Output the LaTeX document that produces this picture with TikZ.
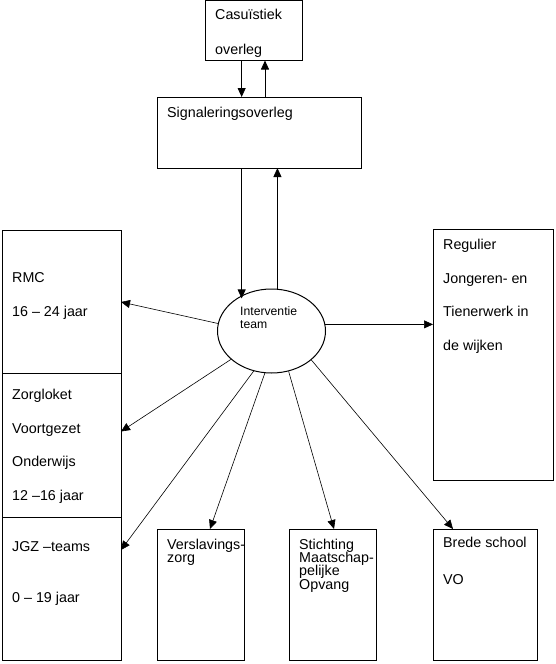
\documentclass[tikz,border=0pt]{standalone}
\usepackage{fontspec}
\setmainfont{Liberation Sans}
\usetikzlibrary{arrows.meta,shapes.geometric,calc}
\begin{document}
\begin{tikzpicture}[x=1pt,y=-1pt,
 box/.style={draw,line width=1pt,inner sep=0pt,outer sep=0pt,anchor=north west},
 lbl/.style={inner sep=0pt,anchor=base west,font=\fontsize{14.3}{16}\selectfont},
 small/.style={inner sep=0pt,anchor=base west,font=\fontsize{12.2}{13}\selectfont},
 arr/.style={line width=0.8pt,-{Triangle[length=9pt,width=8pt]}},
 thin arr/.style={line width=0.6pt,-{Triangle[length=9pt,width=8pt]}}]
\useasboundingbox (0,0) rectangle (556,664);
% boxes
\node[box,minimum width=97pt,minimum height=60pt] (cas) at (205,0.5) {};
\node[box,minimum width=204pt,minimum height=71pt] (sig) at (157,97) {};
\node[box,minimum width=119pt,minimum height=143pt] (rmc) at (2,230) {};
\node[box,minimum width=119pt,minimum height=144pt] (zorg) at (2,373) {};
\node[box,minimum width=119pt,minimum height=143pt] (jgz) at (2,517) {};
\node[box,minimum width=87pt,minimum height=131pt] (vers) at (157,529) {};
\node[box,minimum width=87pt,minimum height=131pt] (stich) at (289,529) {};
\node[box,minimum width=104pt,minimum height=131pt] (brede) at (433,529) {};
\node[box,minimum width=120pt,minimum height=251pt] (reg) at (433,229) {};
\node[draw,line width=1pt,ellipse,inner sep=0pt,minimum width=108pt,minimum height=84pt] (it) at (271.5,331) {};
% texts
\node[lbl] (t1) at (215,19) {Casuïstiek};
\node[lbl] (t2) at (215,54) {overleg};
\node[lbl] (t3) at (167,117) {Signaleringsoverleg};
\node[lbl] (t4) at (12,282) {RMC};
\node[lbl] (t5) at (12,316) {16 – 24 jaar};
\node[lbl] (t6) at (12,399) {Zorgloket};
\node[lbl] (t7) at (12,433) {Voortgezet};
\node[lbl] (t8) at (12,466) {Onderwijs};
\node[lbl] (t9) at (12,500.5) {12 –16 jaar};
\node[lbl] (t10) at (12,551) {JGZ –teams};
\node[lbl] (t11) at (12,602) {0 – 19 jaar};
\node[lbl] (t12) at (167,549) {Verslavings-};
\node[lbl] (t13) at (167,562) {zorg};
\node[lbl] (t14) at (299,549) {Stichting};
\node[lbl] (t15) at (299,562) {Maatschap-};
\node[lbl] (t16) at (299,575) {pelijke};
\node[lbl] (t17) at (299,589) {Opvang};
\node[lbl] (t18) at (443,547) {Brede school};
\node[lbl] (t19) at (443,584) {VO};
\node[lbl] (t20) at (443,249) {Regulier};
\node[lbl] (t21) at (443,283) {Jongeren- en};
\node[lbl] (t22) at (443,316) {Tienerwerk in};
\node[lbl] (t23) at (443,350) {de wijken};
\node[small] (t24) at (240,315) {Interventie};
\node[small] (t25) at (240,328.3) {team};
% vertical connectors
\coordinate (cu) at ($(cas.south)+(11.5,0)$);
\draw[arr] (cas.south -| it.130.3) -- (sig.north -| it.130.3);
\draw[arr] (sig.north -| cu) -- (cu);
\draw[arr] (sig.south -| it.130.3) -- ($(it.130.3)+(0,3)$);
\draw[arr] (it.82.1) -- (sig.south -| it.82.1);
% spokes
\draw[thin arr] (it.172.9) -- ($(rmc.north east)+(0,72)$);
\draw[thin arr] (it.215.4) -- ($(zorg.north east)+(0,58.5)$);
\draw[thin arr] (it.246.7) -- ($(jgz.north east)+(0,33)$);
\draw[thin arr] (it.261.4) -- ($(vers.north west)+(53,0)$);
\draw[thin arr] (it.293.1) -- ($(stich.north west)+(45,0)$);
\draw[thin arr] (it.324.8) -- ($(brede.north west)+(20,0)$);
\draw[thin arr] (it.7.4) -- (reg.west |- it.7.4);
\end{tikzpicture}
\end{document}
